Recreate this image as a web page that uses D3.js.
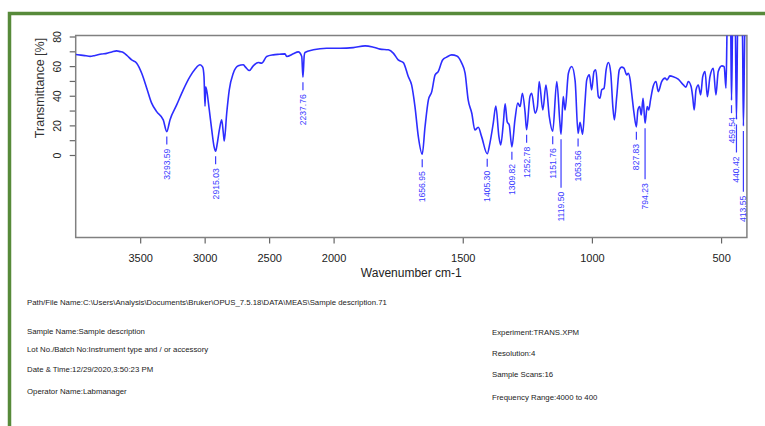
<!DOCTYPE html>
<html>
<head>
<meta charset="utf-8">
<script src="https://cdn.jsdelivr.net/npm/d3@7"></script>
<style>
  body { margin: 0; background: #fff; }
  svg { display: block; font-family: "Liberation Sans", Arial, sans-serif; }
</style>
</head>
<body>
<svg width="765" height="426"></svg>
<script>
// spectrum (wavenumber cm-1, transmittance %)
var wavenumbers = [
  3998, 3960, 3920, 3889, 3850, 3800, 3760, 3720, 3682, 3655, 3631, 3600, 3566, 3527, 3488, 3449,
  3411, 3372, 3321, 3293.59, 3269, 3217, 3166, 3114, 3075, 3036, 3015, 3005, 2997, 2992, 2985, 2964,
  2945, 2927, 2915.03, 2902, 2886, 2868, 2855, 2848, 2829, 2809, 2778, 2739, 2700, 2687, 2654, 2623,
  2584, 2558, 2519, 2468, 2420, 2377, 2364, 2313, 2274, 2247, 2237.76, 2228, 2222, 2157, 2054, 1975,
  1924, 1878, 1846, 1820, 1788, 1769, 1750, 1730, 1711, 1698, 1685, 1672, 1656.95, 1646, 1633, 1620,
  1607, 1595, 1578, 1562, 1543, 1523, 1504, 1491, 1479, 1465, 1453, 1440, 1427, 1405.30, 1395, 1382,
  1372, 1360, 1353, 1343, 1336, 1328, 1320, 1309.82, 1298, 1287, 1278, 1269, 1259, 1252.78, 1240, 1233,
  1220, 1211, 1204, 1190, 1178, 1165, 1151.76, 1136, 1124, 1119.50, 1111, 1104, 1091, 1078, 1065, 1053.56,
  1046, 1036, 1027, 1020, 1010, 1001, 992, 985, 975, 969, 962, 953, 945, 936, 927, 919,
  913, 904, 894, 885, 876, 865, 859, 852, 846, 837, 827.83, 822, 815, 809, 802, 794.23,
  786, 780, 773, 763, 752, 743, 730, 717, 709, 698, 685, 666, 646, 636, 627, 616,
  610, 604, 597, 588, 579, 571, 562, 553, 543, 530, 520, 511, 497, 488, 481, 476,
  468, 463, 459.54, 455, 446, 440.42, 435, 424, 417, 413.55, 408, 400
];
var transmittance = [
  67.8, 67.4, 67.0, 66.6, 67.2, 68.2, 68.6, 69.6, 70.3, 69.8, 69.2, 67.0, 64.2, 62.0, 55.2, 45.1,
  35.0, 29.3, 23.7, 15.8, 23.7, 33.8, 44.0, 52.9, 57.9, 60.9, 59.3, 53.0, 33.0, 46.0, 44.0, 30.4,
  16.9, 5.6, 2.5, 7.9, 16.9, 23.7, 14.7, 9.5, 28.2, 44.0, 55.2, 60.2, 60.9, 59.7, 57.0, 60.2,
  62.4, 62.0, 66.5, 67.6, 68.0, 68.3, 66.5, 68.3, 69.6, 66.5, 52.5, 67.0, 69.2, 71.0, 72.1, 72.1,
  72.5, 73.7, 72.8, 71.5, 71.0, 68.8, 64.2, 62.4, 53.0, 47.3, 32.7, 12.4, 0.5, 19.1, 37.2, 42.8,
  54.1, 56.3, 64.2, 66.1, 67.6, 66.9, 62.0, 55.2, 37.2, 28.2, 16.9, 18.7, 12.4, 0.8, 7.9, 21.4,
  33.1, 12.4, 6.8, 21.4, 34.5, 22.5, 20.3, 5.5, 23.7, 35.0, 32.7, 41.7, 29.3, 17.0, 39.4, 41.7,
  28.2, 32.7, 49.6, 30.4, 47.3, 25.9, 16.0, 49.6, 22.0, 14.0, 39.4, 30.4, 55.2, 59.7, 50.0, 14.5,
  22.0, 14.0, 35.0, 50.7, 54.1, 44.0, 56.3, 57.5, 39.4, 38.3, 44.0, 45.1, 57.5, 62.4, 55.2, 32.7,
  23.7, 39.4, 57.5, 59.3, 58.6, 54.1, 55.2, 50.7, 41.7, 28.2, 19.0, 30.4, 32.7, 27.0, 38.3, 21.4,
  32.7, 30.4, 37.2, 46.2, 49.6, 42.8, 49.6, 51.9, 50.7, 53.4, 52.9, 51.2, 47.3, 45.8, 49.6, 46.2,
  39.4, 30.4, 44.0, 47.3, 40.6, 52.9, 56.3, 39.4, 52.9, 58.6, 40.6, 56.3, 60.2, 59.7, 45.1, 90,
  100, 90, 37.0, 90, 100, 24.0, 95, 100, 80, 19.6, 85, 100
];

// labelled peaks
var peakWn = [3293.59, 2915.03, 2237.76, 1656.95, 1405.30, 1309.82, 1252.78, 1151.76,
              1119.50, 1053.56, 827.83, 794.23, 459.54, 440.42, 413.55];
var peakT  = [15.8, 2.5, 52.5, 0.5, 0.8, 5.5, 17.0, 16.0,
              14.0, 14.5, 19.0, 21.4, 37.0, 24.0, 19.6];

var xTicks = [3500, 3000, 2500, 2000, 1500, 1000, 500];
var yTicks = [0, 10, 20, 30, 40, 50, 60, 70, 80];

var infoLeft = [
  "Path/File Name:C:\\Users\\Analysis\\Documents\\Bruker\\OPUS_7.5.18\\DATA\\MEAS\\Sample description.71",
  "Sample Name:Sample description",
  "Lot No./Batch No:Instrument type and / or accessory",
  "Date & Time:12/29/2020,3:50:23 PM",
  "Operator Name:Labmanager"
];
var infoRight = [
  "Experiment:TRANS.XPM",
  "Resolution:4",
  "Sample Scans:16",
  "Frequency Range:4000 to 400"
];

var svg = d3.select("svg");

// green frame (only top and left edge visible)
svg.append("path")
    .attr("d", "M9.5,430 V13.5 H770")
    .attr("fill", "none")
    .attr("stroke", "#578a3a")
    .attr("stroke-width", 3.5);

var box = {left: 75.7, right: 746.9, top: 35.5, bottom: 237.5};

// OPUS style split axis: 4000-2000 compressed
var x = d3.scaleLinear()
    .domain([4000, 2000, 400])
    .range([box.left, 333.6, box.right]);

var y = d3.scaleLinear()
    .domain([0, 80])
    .range([155, 36.5]);

svg.append("defs").append("clipPath")
    .attr("id", "plotclip")
  .append("rect")
    .attr("x", box.left).attr("y", box.top)
    .attr("width", box.right - box.left).attr("height", box.bottom - box.top);

// x axis
var xAxis = svg.append("g")
    .attr("transform", "translate(0," + box.bottom + ")")
    .call(d3.axisBottom(x).tickValues(xTicks).tickSize(6).tickPadding(11)
      .tickFormat(d3.format("d")));
xAxis.select(".domain").remove();
xAxis.selectAll("line").attr("stroke", "#666").attr("stroke-width", 1.2);
xAxis.selectAll("text").attr("font-size", 11).attr("fill", "#222")
    .attr("font-family", "Liberation Sans, Arial, sans-serif");

// y axis
var yAxis = svg.append("g")
    .attr("transform", "translate(" + box.left + ",0)")
    .call(d3.axisLeft(y).tickValues(yTicks).tickSize(6)
      .tickFormat(function(d) { return d % 20 === 0 ? d : ""; }));
yAxis.select(".domain").remove();
yAxis.selectAll("line").attr("stroke", "#666").attr("stroke-width", 1.2);
yAxis.selectAll("text")
    .attr("x", null).attr("dy", null)
    .attr("text-anchor", "middle")
    .attr("transform", "translate(-15,0) rotate(-90)")
    .attr("font-size", 10.5).attr("fill", "#222")
    .attr("font-family", "Liberation Sans, Arial, sans-serif");

// plot box
svg.append("rect")
    .attr("x", box.left).attr("y", box.top)
    .attr("width", box.right - box.left).attr("height", box.bottom - box.top)
    .attr("fill", "none")
    .attr("stroke", "#808080")
    .attr("stroke-width", 1.5);

// axis titles
svg.append("text")
    .attr("transform", "translate(44,88) rotate(-90)")
    .attr("text-anchor", "middle")
    .attr("font-size", 12.5)
    .attr("fill", "#333")
    .text("Transmittance [%]");

svg.append("text")
    .attr("x", (box.left + box.right) / 2)
    .attr("y", 277)
    .attr("text-anchor", "middle")
    .attr("font-size", 12)
    .attr("fill", "#222")
    .text("Wavenumber cm-1");

// spectrum
var points = wavenumbers.map(function(w, i) { return [w, transmittance[i]]; });
var line = d3.line()
    .x(function(d) { return x(d[0]); })
    .y(function(d) { return y(d[1]); })
    .curve(d3.curveMonotoneX);

svg.append("path")
    .datum(points)
    .attr("clip-path", "url(#plotclip)")
    .attr("fill", "none")
    .attr("stroke", "#2d2dff")
    .attr("stroke-width", 1.6)
    .attr("stroke-linejoin", "round")
    .attr("d", line);

// peak labels: drop under the previous label when they would collide
var peaks = svg.append("g").attr("fill", "#3c3cff").attr("font-size", 8.6);
var prev = null;
peakWn.forEach(function(w, i) {
  var px = x(w), py = y(peakT[i]);
  var top = py + 17;
  var pushed = prev && Math.abs(px - prev.x) < 10;
  if (pushed) top = Math.max(top, prev.bottom + 13);

  var t = peaks.append("text")
      .attr("transform", "translate(" + px + "," + top + ") rotate(-90)")
      .attr("text-anchor", "end")
      .attr("dy", "0.35em")
      .text(w.toFixed(2));
  var len = t.node().getComputedTextLength();

  peaks.append("line")
      .attr("x1", px).attr("x2", px)
      .attr("y1", pushed ? py + 5 : Math.max(py + 5, top - 12))
      .attr("y2", top - 4)
      .attr("stroke", "#3c3cff")
      .attr("stroke-width", 1.2);
  prev = {x: px, bottom: top + len};
});

// info block
var info = svg.append("g").attr("font-size", 7.8).attr("fill", "#222");
var leftY = [302, 331, 349, 369, 391];
info.selectAll("text.l")
    .data(infoLeft)
  .enter().append("text")
    .attr("class", "l")
    .attr("x", 27)
    .attr("y", function(d, i) { return leftY[i] + 2.7; })
    .text(function(d) { return d; });

var rightY = [332, 353, 374, 397];
info.selectAll("text.r")
    .data(infoRight)
  .enter().append("text")
    .attr("class", "r")
    .attr("x", 492)
    .attr("y", function(d, i) { return rightY[i] + 2.7; })
    .text(function(d) { return d; });
</script>
</body>
</html>
